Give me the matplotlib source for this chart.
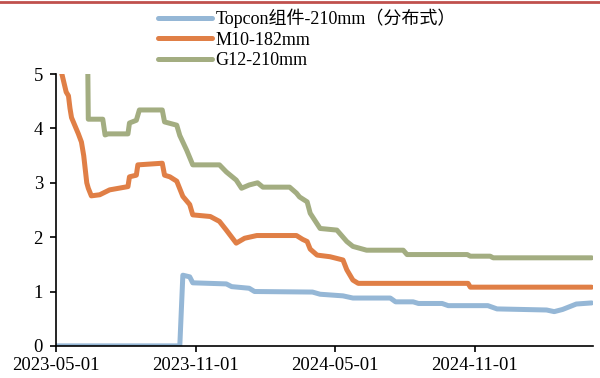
import matplotlib
matplotlib.use("Agg")
import matplotlib.pyplot as plt
import matplotlib.dates as mdates
from matplotlib.font_manager import FontProperties
import pandas as pd

# Topcon组件-210mm（分布式）
topcon_dates = ["2023-05-01", "2023-10-11", "2023-10-15", "2023-10-24", "2023-10-28",
                "2023-12-11", "2023-12-18", "2024-01-10", "2024-01-17", "2024-04-02",
                "2024-04-12", "2024-05-12", "2024-05-25", "2024-07-13", "2024-07-20",
                "2024-08-12", "2024-08-19", "2024-09-19", "2024-09-27", "2024-11-18",
                "2024-11-30", "2025-02-03", "2025-02-13", "2025-02-24", "2025-03-14",
                "2025-04-03"]
topcon_vals = [0, 0, 1.30, 1.27, 1.16,
               1.14, 1.09, 1.06, 1.00, 0.99,
               0.95, 0.92, 0.88, 0.88, 0.81,
               0.81, 0.78, 0.78, 0.74, 0.74,
               0.68, 0.66, 0.63, 0.67, 0.77,
               0.79]

# M10-182mm
m10_dates = ["2023-05-06", "2023-05-15", "2023-05-18", "2023-05-20", "2023-05-22",
             "2023-05-31", "2023-06-04", "2023-06-07", "2023-06-11", "2023-06-13",
             "2023-06-17", "2023-06-28", "2023-07-11", "2023-08-04", "2023-08-06",
             "2023-08-15", "2023-08-17", "2023-09-18", "2023-09-21", "2023-09-28",
             "2023-10-07", "2023-10-15", "2023-10-24", "2023-10-28", "2023-11-20",
             "2023-12-02", "2023-12-11", "2023-12-24", "2024-01-04", "2024-01-20",
             "2024-03-12", "2024-03-20", "2024-03-26", "2024-03-30", "2024-04-08",
             "2024-04-25", "2024-05-12", "2024-05-17", "2024-05-25", "2024-06-01",
             "2024-10-23", "2024-10-26", "2025-04-03"]
m10_vals = [5.20, 4.67, 4.60, 4.37, 4.20,
            3.90, 3.75, 3.50, 3.00, 2.90,
            2.76, 2.78, 2.87, 2.93, 3.11,
            3.14, 3.33, 3.36, 3.14, 3.11,
            3.03, 2.75, 2.60, 2.41, 2.38,
            2.29, 2.13, 1.89, 1.98, 2.03,
            2.03, 1.96, 1.92, 1.78, 1.67,
            1.64, 1.58, 1.40, 1.21, 1.15,
            1.15, 1.08, 1.08]

# G12-210mm
g12_dates = ["2023-06-12", "2023-06-13", "2023-07-02", "2023-07-05", "2023-07-09",
             "2023-08-04", "2023-08-06", "2023-08-15", "2023-08-19", "2023-09-18",
             "2023-09-21", "2023-10-07", "2023-10-11", "2023-10-20", "2023-10-28",
             "2023-12-02", "2023-12-11", "2023-12-24", "2023-12-31", "2024-01-10",
             "2024-01-21", "2024-01-28", "2024-03-03", "2024-03-12", "2024-03-16",
             "2024-03-26", "2024-03-30", "2024-04-12", "2024-05-04", "2024-05-17",
             "2024-05-25", "2024-06-12", "2024-07-30", "2024-08-04", "2024-10-22",
             "2024-10-26", "2024-11-21", "2024-11-25", "2025-04-03"]
g12_vals = [5.60, 4.17, 4.17, 3.88, 3.90,
            3.90, 4.10, 4.15, 4.34, 4.34,
            4.12, 4.06, 3.87, 3.60, 3.33,
            3.33, 3.20, 3.05, 2.90, 2.96,
            3.00, 2.92, 2.92, 2.81, 2.74,
            2.65, 2.44, 2.16, 2.13, 1.92,
            1.83, 1.76, 1.76, 1.68, 1.68,
            1.65, 1.65, 1.62, 1.62]

x_ticks = ["2023-05-01", "2023-11-01", "2024-05-01", "2024-11-01"]

serif = ["Liberation Serif", "Noto Sans CJK SC"]
plt.rcParams["font.family"] = serif

fig = plt.figure(figsize=(6, 3.78), dpi=100)
ax = fig.add_axes([0.0925, 0.085, 0.896, 0.719])

lw = 3.6
ax.plot(pd.to_datetime(topcon_dates), topcon_vals, color="#95B7D6", lw=lw,
        solid_capstyle="round", solid_joinstyle="round", label="Topcon组件-210mm（分布式）")
ax.plot(pd.to_datetime(m10_dates), m10_vals, color="#E07F46", lw=lw,
        solid_capstyle="round", solid_joinstyle="round", label="M10-182mm")
ax.plot(pd.to_datetime(g12_dates), g12_vals, color="#A3AD81", lw=lw,
        solid_capstyle="round", solid_joinstyle="round", label="G12-210mm")

ax.set_ylim(0, 5)
ax.set_yticks(range(6))
ax.set_xlim(pd.Timestamp("2023-05-01"), pd.Timestamp("2025-04-05"))
ax.set_xticks(pd.to_datetime(x_ticks))
ax.xaxis.set_major_formatter(mdates.DateFormatter("%Y-%m-%d"))

for s in ["top", "right"]:
    ax.spines[s].set_visible(False)
for s in ["left", "bottom"]:
    ax.spines[s].set_linewidth(1.2)
    ax.spines[s].set_color("black")
ax.tick_params(direction="out", length=4, width=1.2, labelsize=13.5, colors="black")
ax.tick_params(axis="x", pad=4)
ax.tick_params(axis="y", pad=5)

prop = FontProperties(family=serif, size=13)
fig.legend(loc="upper left", bbox_to_anchor=(0.263, 0.977), frameon=False,
           prop=prop, handlelength=3.0, handletextpad=0.2, labelspacing=0.2,
           borderpad=0, borderaxespad=0)

# red rule along the top edge
fig.add_artist(plt.Line2D([0, 1], [0.996, 0.996], transform=fig.transFigure,
                          color="#C0504D", lw=2))

fig.savefig("out.png", dpi=100)
